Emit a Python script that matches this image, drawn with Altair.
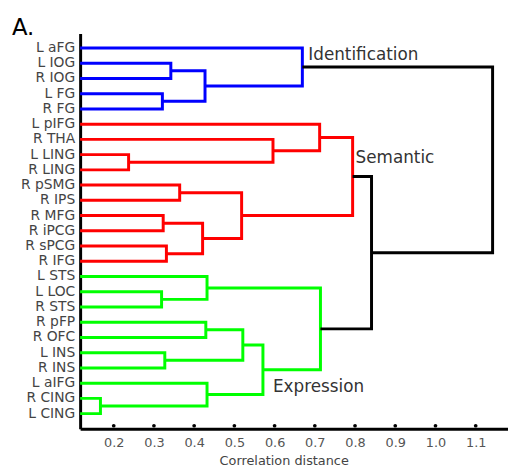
import altair as alt
import pandas as pd

leaves = ["L aFG", "L IOG", "R IOG", "L FG", "R FG", "L pIFG", "R THA", "L LING",
          "R LING", "R pSMG", "R IPS", "R MFG", "R iPCG", "R sPCG", "R IFG", "L STS",
          "L LOC", "R STS", "R pFP", "R OFC", "L INS", "R INS", "L aIFG", "R CING", "L CING"]

merge_ids = ["b1", "b2", "b3", "b4", "s1", "s2", "s3", "s4", "s5", "s6", "s7", "s8", "s9",
             "e1", "e2", "e3", "e4", "e5", "e6", "e7", "e8", "e9", "k1", "k2"]
merge_left = ["L IOG", "L FG", "b1", "L aFG", "L LING", "R THA", "L pIFG", "R pSMG", "R MFG",
              "R sPCG", "s5", "s4", "s3", "L LOC", "L STS", "R pFP", "L INS", "e3", "R CING",
              "L aIFG", "e5", "e2", "s9", "b4"]
merge_right = ["R IOG", "R FG", "b2", "b3", "R LING", "s1", "s2", "R IPS", "R iPCG", "R IFG",
               "s6", "s7", "s8", "R STS", "e1", "R OFC", "R INS", "e4", "L CING", "e6", "e7",
               "e8", "e9", "k1"]
merge_dist = [0.342, 0.321, 0.427, 0.669, 0.237, 0.596, 0.712, 0.364, 0.323, 0.331, 0.421,
              0.518, 0.794, 0.319, 0.432, 0.429, 0.327, 0.521, 0.167, 0.432, 0.571, 0.714,
              0.841, 1.142]
merge_group = ["Identification"] * 4 + ["Semantic"] * 9 + ["Expression"] * 9 + ["link"] * 2

cluster_names = ["Identification", "Semantic", "Expression"]
cluster_top = ["b4", "s9", "e9"]
tick_values = [0.2, 0.3, 0.4, 0.5, 0.6, 0.7, 0.8, 0.9, 1.0, 1.1]

X_MIN, X_MAX = 0.1165, 1.1803
Y_MIN, Y_MAX = -0.953, 24.99

# node positions
pos = {}
for i, name in enumerate(leaves):
    pos[name] = (X_MIN, float(i))
for mid, a, b, d in zip(merge_ids, merge_left, merge_right, merge_dist):
    pos[mid] = (d, (pos[a][1] + pos[b][1]) / 2.0)

rows = []
for mid, a, b, d, g in zip(merge_ids, merge_left, merge_right, merge_dist, merge_group):
    xa, ya = pos[a]
    xb, yb = pos[b]
    pts = [(xa, ya), (d, ya), (d, yb), (xb, yb)]
    for k, (px, py) in enumerate(pts):
        rows.append({"id": mid, "group": g, "order": k, "x": px, "y": py})
seg = pd.DataFrame(rows)

xscale = alt.Scale(domain=[X_MIN, X_MAX], nice=False, zero=False)
yscale = alt.Scale(domain=[Y_MIN, Y_MAX], nice=False, zero=False, reverse=True)

lines = alt.Chart(seg).mark_line(strokeWidth=3, strokeJoin="miter", strokeCap="butt").encode(
    x=alt.X("x:Q", scale=xscale, axis=alt.Axis(
        values=tick_values, format=".1f", ticks=False, grid=False, labelOverlap=False,
        domainColor="black", domainWidth=3,
        labelFont="DejaVu Sans", labelFontSize=13, labelColor="#555555", labelPadding=8,
        title="Correlation distance", titleFont="DejaVu Sans", titleFontSize=13,
        titleFontWeight="normal", titleColor="#444444", titleX=206, titleY=36,
        titleBaseline="alphabetic")),
    y=alt.Y("y:Q", scale=yscale, axis=alt.Axis(
        labels=False, ticks=False, grid=False,
        domainColor="black", domainWidth=3, title=None)),
    detail="id:N",
    order="order:Q",
    color=alt.Color("group:N", legend=None, scale=alt.Scale(
        domain=["Identification", "Semantic", "Expression", "link"],
        range=["#0000ff", "#ff0000", "#00ff00", "#000000"])),
)

leaf_df = pd.DataFrame({"name": leaves, "idx": list(range(len(leaves)))})
leaf_text = alt.Chart(leaf_df).mark_text(
    align="right", baseline="middle", font="DejaVu Sans", fontSize=14, color="#444444").encode(
    x=alt.value(-5),
    y=alt.Y("idx:Q", scale=yscale),
    text="name:N",
)

dots = alt.Chart(pd.DataFrame({"t": tick_values})).mark_circle(size=14, color="black", opacity=1).encode(
    x=alt.X("t:Q", scale=xscale),
    y=alt.value(397),
)

offsets = {"Identification": (6, -12), "Semantic": (3, -19), "Expression": (-48, 59)}
label_layers = []
for name, top in zip(cluster_names, cluster_top):
    dx, dy = offsets[name]
    df = pd.DataFrame({"x": [pos[top][0]], "y": [pos[top][1]], "t": [name]})
    label_layers.append(
        alt.Chart(df).mark_text(align="left", baseline="middle", dx=dx, dy=dy,
                                font="DejaVu Sans", fontSize=17, color="#333333").encode(
            x=alt.X("x:Q", scale=xscale),
            y=alt.Y("y:Q", scale=yscale), text="t:N"))

panel = alt.Chart(pd.DataFrame({"t": ["A."]})).mark_text(
    align="left", baseline="alphabetic", font="DejaVu Sans", fontSize=23, color="black").encode(
    x=alt.value(-69), y=alt.value(2), text="t:N")

chart = alt.layer(lines, leaf_text, dots, *label_layers, panel).properties(
    width=433, height=400,
    autosize=alt.AutoSizeParams(type="none"),
    padding={"left": 73, "top": 23, "right": 0, "bottom": 37},
).configure_view(stroke=None)

chart.save("out.html", embed_options={"renderer": "svg", "actions": False})
